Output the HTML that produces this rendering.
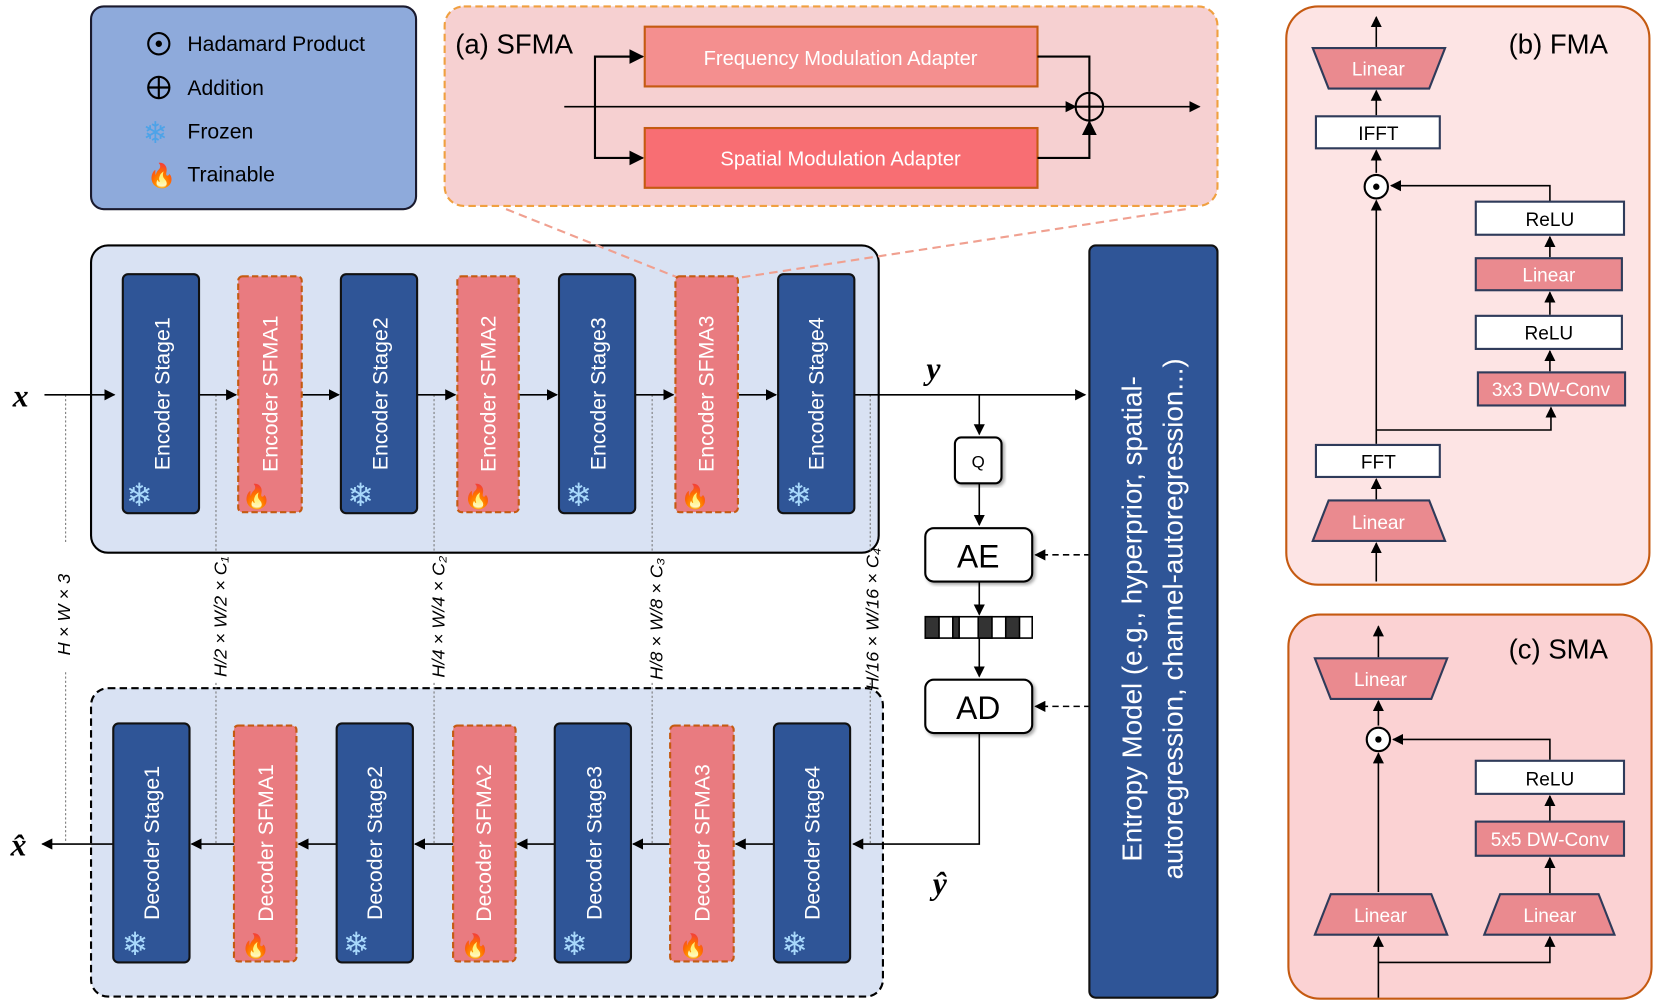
<!DOCTYPE html>
<html><head><meta charset="utf-8"><style>
html,body{margin:0;padding:0;background:#fff;}
svg{display:block;}
text{font-family:"Liberation Sans",sans-serif;}
.m{font-family:"Liberation Serif",serif;font-style:italic;}
</style></head><body>
<svg width="1660" height="1003" viewBox="0 0 1568 940" preserveAspectRatio="none" xmlns="http://www.w3.org/2000/svg">
<defs>
<marker id="a" viewBox="0 0 10 10" refX="9" refY="5" markerWidth="7" markerHeight="7" orient="auto-start-reverse"><path d="M0,0L10,5L0,10z" fill="#000"/></marker>
<filter id="sh"><feDropShadow dx="2" dy="2" stdDeviation="1.5" flood-opacity="0.35"/></filter>
</defs>
<!-- legend -->
<rect x="86" y="6" width="307" height="190" rx="12" fill="#8eaadb" stroke="#1a1a2e" stroke-width="2"/>
<circle cx="150" cy="41" r="10" fill="none" stroke="#000" stroke-width="2"/><circle cx="150" cy="41" r="3" fill="#000"/>
<text x="177" y="48" font-size="20">Hadamard Product</text>
<circle cx="150" cy="82" r="10" fill="none" stroke="#000" stroke-width="2"/><path d="M140,82h20M150,72v20" stroke="#000" stroke-width="2"/>
<text x="177" y="89" font-size="20">Addition</text>
<text x="135" y="134" font-size="28" fill="#4da3e8">❄</text><text x="177" y="130" font-size="20">Frozen</text>
<text x="139" y="172" font-size="22" fill="#f05a1a">🔥</text><text x="177" y="170" font-size="20">Trainable</text>
<!-- SFMA -->
<rect x="420" y="6" width="730" height="187" rx="18" fill="#f6d0d1" stroke="#f0a040" stroke-width="2" stroke-dasharray="7,4"/>
<text x="430" y="50" font-size="26">(a) SFMA</text>
<rect x="609" y="25" width="371" height="56" fill="#f48f8f" stroke="#c55a11" stroke-width="2"/>
<text x="794" y="61" font-size="19" fill="#fff" text-anchor="middle">Frequency Modulation Adapter</text>
<rect x="609" y="120" width="371" height="56" fill="#f86e73" stroke="#c55a11" stroke-width="2"/>
<text x="794" y="155" font-size="19" fill="#fff" text-anchor="middle">Spatial Modulation Adapter</text>
<path d="M533,100H1016" stroke="#000" stroke-width="1.5" marker-end="url(#a)"/>
<path d="M1042,100H1133" stroke="#000" stroke-width="1.5" marker-end="url(#a)"/>
<path d="M562,100V53H607M562,100V148H607" fill="none" stroke="#000" stroke-width="2" marker-end="url(#a)"/>
<path d="M562,53H607" stroke="#000" stroke-width="2" marker-end="url(#a)"/>
<path d="M980,53H1029V86M980,148H1029V114" fill="none" stroke="#000" stroke-width="2" marker-end="url(#a)"/>
<circle cx="1029" cy="100" r="13" fill="none" stroke="#000" stroke-width="2"/><path d="M1016,100h26M1029,87v26" stroke="#000" stroke-width="2"/>
<!-- encoder container -->
<rect x="86" y="230" width="744" height="288" rx="16" fill="#d9e2f3" stroke="#000" stroke-width="2"/>
<rect x="86" y="645" width="748" height="289" rx="16" fill="#d9e2f3" stroke="#000" stroke-width="2" stroke-dasharray="7,4"/>
<path d="M478,196L640,260M1120,196L700,260" stroke="#f0a090" stroke-width="2" stroke-dasharray="8,5"/>
<!-- dims dotted lines -->
<g stroke="#777" stroke-width="1" stroke-dasharray="2,2">
<path d="M62,370V510M62,630V790M204,370V518M204,640V790M410,370V518M410,640V790M616,370V518M616,640V790M822,370V518M822,640V790"/>
</g>
<!-- main lines -->
<g stroke="#000" stroke-width="1.5" fill="none">
<path d="M42,370H108" marker-end="url(#a)"/>
<path d="M188,370H223" marker-end="url(#a)"/>
<path d="M285,370H320" marker-end="url(#a)"/>
<path d="M394,370H430" marker-end="url(#a)"/>
<path d="M490,370H526" marker-end="url(#a)"/>
<path d="M600,370H636" marker-end="url(#a)"/>
<path d="M697,370H733" marker-end="url(#a)"/>
<path d="M807,370H1025" marker-end="url(#a)"/>
<path d="M925,370V407" marker-end="url(#a)"/>
<path d="M925,453V492" marker-end="url(#a)"/>
<path d="M925,545V576" marker-end="url(#a)"/>
<path d="M925,598V634" marker-end="url(#a)"/>
<path d="M925,687V791H806" marker-end="url(#a)"/>
<path d="M731,791H695" marker-end="url(#a)"/>
<path d="M633,791H598" marker-end="url(#a)"/>
<path d="M524,791H489" marker-end="url(#a)"/>
<path d="M428,791H392" marker-end="url(#a)"/>
<path d="M318,791H282" marker-end="url(#a)"/>
<path d="M221,791H181" marker-end="url(#a)"/>
<path d="M107,791H40" marker-end="url(#a)"/>
<path d="M1070,520H978" stroke-dasharray="6,4" marker-end="url(#a)"/>
<path d="M1070,662H978" stroke-dasharray="6,4" marker-end="url(#a)"/>
</g>
<!-- encoder blocks -->
<g font-size="20" fill="#fff">
<rect x="116" y="257" width="72" height="224" rx="5" fill="#2f5597" stroke="#111" stroke-width="2"/>
<text transform="translate(160,369) rotate(-90)" text-anchor="middle">Encoder Stage1</text>
<rect x="225" y="259" width="60" height="221" rx="4" fill="#e97b80" stroke="#c55a11" stroke-width="2" stroke-dasharray="6,3"/>
<text transform="translate(262,369) rotate(-90)" text-anchor="middle">Encoder SFMA1</text>
<rect x="322" y="257" width="72" height="224" rx="5" fill="#2f5597" stroke="#111" stroke-width="2"/>
<text transform="translate(366,369) rotate(-90)" text-anchor="middle">Encoder Stage2</text>
<rect x="432" y="259" width="58" height="221" rx="4" fill="#e97b80" stroke="#c55a11" stroke-width="2" stroke-dasharray="6,3"/>
<text transform="translate(468,369) rotate(-90)" text-anchor="middle">Encoder SFMA2</text>
<rect x="528" y="257" width="72" height="224" rx="5" fill="#2f5597" stroke="#111" stroke-width="2"/>
<text transform="translate(572,369) rotate(-90)" text-anchor="middle">Encoder Stage3</text>
<rect x="638" y="259" width="59" height="221" rx="4" fill="#e97b80" stroke="#c55a11" stroke-width="2" stroke-dasharray="6,3"/>
<text transform="translate(674,369) rotate(-90)" text-anchor="middle">Encoder SFMA3</text>
<rect x="735" y="257" width="72" height="224" rx="5" fill="#2f5597" stroke="#111" stroke-width="2"/>
<text transform="translate(778,369) rotate(-90)" text-anchor="middle">Encoder Stage4</text>
<!-- decoder -->
<rect x="107" y="678" width="72" height="224" rx="5" fill="#2f5597" stroke="#111" stroke-width="2"/>
<text transform="translate(150,790) rotate(-90)" text-anchor="middle">Decoder Stage1</text>
<rect x="221" y="680" width="59" height="221" rx="4" fill="#e97b80" stroke="#c55a11" stroke-width="2" stroke-dasharray="6,3"/>
<text transform="translate(258,790) rotate(-90)" text-anchor="middle">Decoder SFMA1</text>
<rect x="318" y="678" width="72" height="224" rx="5" fill="#2f5597" stroke="#111" stroke-width="2"/>
<text transform="translate(361,790) rotate(-90)" text-anchor="middle">Decoder Stage2</text>
<rect x="428" y="680" width="59" height="221" rx="4" fill="#e97b80" stroke="#c55a11" stroke-width="2" stroke-dasharray="6,3"/>
<text transform="translate(464,790) rotate(-90)" text-anchor="middle">Decoder SFMA2</text>
<rect x="524" y="678" width="72" height="224" rx="5" fill="#2f5597" stroke="#111" stroke-width="2"/>
<text transform="translate(568,790) rotate(-90)" text-anchor="middle">Decoder Stage3</text>
<rect x="633" y="680" width="60" height="221" rx="4" fill="#e97b80" stroke="#c55a11" stroke-width="2" stroke-dasharray="6,3"/>
<text transform="translate(670,790) rotate(-90)" text-anchor="middle">Decoder SFMA3</text>
<rect x="731" y="678" width="72" height="224" rx="5" fill="#2f5597" stroke="#111" stroke-width="2"/>
<text transform="translate(774,790) rotate(-90)" text-anchor="middle">Decoder Stage4</text>
</g>
<g font-size="30" fill="#a8d8fb">
<text x="119" y="474">❄</text><text x="328" y="474">❄</text><text x="534" y="474">❄</text><text x="742" y="474">❄</text>
<text x="115" y="895">❄</text><text x="324" y="895">❄</text><text x="530" y="895">❄</text><text x="738" y="895">❄</text>
<text x="1035" y="281">❄</text>
</g>
<g font-size="22" fill="#ff5a10">
<text x="229" y="473">🔥</text><text x="438" y="473">🔥</text><text x="643" y="473">🔥</text>
<text x="228" y="894">🔥</text><text x="435" y="894">🔥</text><text x="641" y="894">🔥</text>
</g>
<!-- dims -->
<g font-size="17" class="m">
<text transform="translate(66,576) rotate(-90)" text-anchor="middle">H × W × 3</text>
<text transform="translate(214,578) rotate(-90)" text-anchor="middle">H/2 × W/2 × C₁</text>
<text transform="translate(420,578) rotate(-90)" text-anchor="middle">H/4 × W/4 × C₂</text>
<text transform="translate(626,580) rotate(-90)" text-anchor="middle">H/8 × W/8 × C₃</text>
<text transform="translate(830,580) rotate(-90)" text-anchor="middle">H/16 × W/16 × C₄</text>
</g>
<text x="12" y="381" font-size="30" class="m" font-weight="bold">x</text>
<text x="10" y="802" font-size="30" class="m" font-weight="bold">x̂</text>
<text x="875" y="355" font-size="30" class="m" font-weight="bold">y</text>
<text x="881" y="838" font-size="30" class="m" font-weight="bold">ŷ</text>
<!-- Q AE AD -->
<rect x="902" y="410" width="44" height="43" rx="6" fill="#fff" stroke="#000" stroke-width="2" filter="url(#sh)"/>
<text x="924" y="438" font-size="16" text-anchor="middle">Q</text>
<rect x="874" y="495" width="101" height="50" rx="8" fill="#fff" stroke="#000" stroke-width="2" filter="url(#sh)"/>
<text x="924" y="532" font-size="30" text-anchor="middle">AE</text>
<rect x="874" y="637" width="101" height="50" rx="8" fill="#fff" stroke="#000" stroke-width="2" filter="url(#sh)"/>
<text x="924" y="674" font-size="30" text-anchor="middle">AD</text>
<g stroke="#000" stroke-width="1.5">
<rect x="874" y="578" width="101" height="20" fill="#fff"/>
<rect x="874" y="578" width="13" height="20" fill="#333"/><rect x="900" y="578" width="6" height="20" fill="#333"/><rect x="924" y="578" width="13" height="20" fill="#333"/><rect x="950" y="578" width="13" height="20" fill="#333"/>
</g>
<!-- entropy -->
<rect x="1029" y="230" width="121" height="705" rx="6" fill="#2f5597" stroke="#111" stroke-width="2"/>
<text transform="translate(1078,580) rotate(-90)" text-anchor="middle" font-size="26" fill="#fff">Entropy Model (e.g., hyperprior, spatial-</text>
<text transform="translate(1117,580) rotate(-90)" text-anchor="middle" font-size="26" fill="#fff">autoregression, channel-autoregression...)</text>
<!-- FMA -->
<rect x="1215" y="6" width="343" height="542" rx="30" fill="#fde4e4" stroke="#c55a11" stroke-width="2"/>
<text x="1425" y="50" font-size="26">(b) FMA</text>
<g stroke="#000" stroke-width="1.5" fill="none">
<path d="M1300,44V16" marker-end="url(#a)"/>
<path d="M1300,108V85" marker-end="url(#a)"/>
<path d="M1300,162V141" marker-end="url(#a)"/>
<path d="M1300,416V188" marker-end="url(#a)"/>
<path d="M1300,468V449" marker-end="url(#a)"/>
<path d="M1300,545V509" marker-end="url(#a)"/>
<path d="M1300,403H1465V382" marker-end="url(#a)"/>
<path d="M1464,348V329" marker-end="url(#a)"/>
<path d="M1464,295V274" marker-end="url(#a)"/>
<path d="M1464,241V222" marker-end="url(#a)"/>
<path d="M1464,189V174H1314" marker-end="url(#a)"/>
</g>
<polygon points="1240,45 1365,45 1350,83 1255,83" fill="#ea8a8f" stroke="#2f3b5a" stroke-width="2"/>
<text x="1302" y="71" font-size="18" fill="#fff" text-anchor="middle">Linear</text>
<rect x="1243" y="109" width="117" height="30" fill="#fff" stroke="#2f3b5a" stroke-width="2"/>
<text x="1302" y="131" font-size="18" text-anchor="middle">IFFT</text>
<circle cx="1300" cy="175" r="11" fill="#fff" stroke="#000" stroke-width="2"/><circle cx="1300" cy="175" r="3" fill="#000"/>
<rect x="1394" y="189" width="140" height="31" fill="#fff" stroke="#2f3b5a" stroke-width="2"/>
<text x="1464" y="212" font-size="18" text-anchor="middle">ReLU</text>
<rect x="1394" y="242" width="138" height="30" fill="#ea8a8f" stroke="#2f3b5a" stroke-width="2"/>
<text x="1463" y="264" font-size="18" fill="#fff" text-anchor="middle">Linear</text>
<rect x="1394" y="296" width="138" height="31" fill="#fff" stroke="#2f3b5a" stroke-width="2"/>
<text x="1463" y="318" font-size="18" text-anchor="middle">ReLU</text>
<rect x="1396" y="349" width="139" height="31" fill="#ea8a8f" stroke="#2f3b5a" stroke-width="2"/>
<text x="1465" y="371" font-size="18" fill="#fff" text-anchor="middle">3x3 DW-Conv</text>
<rect x="1243" y="417" width="117" height="30" fill="#fff" stroke="#2f3b5a" stroke-width="2"/>
<text x="1302" y="439" font-size="18" text-anchor="middle">FFT</text>
<polygon points="1255,469 1350,469 1365,507 1240,507" fill="#ea8a8f" stroke="#2f3b5a" stroke-width="2"/>
<text x="1302" y="496" font-size="18" fill="#fff" text-anchor="middle">Linear</text>
<!-- SMA -->
<rect x="1217" y="576" width="343" height="360" rx="30" fill="#fbd2d3" stroke="#c55a11" stroke-width="2"/>
<text x="1425" y="617" font-size="26">(c) SMA</text>
<g stroke="#000" stroke-width="1.5" fill="none">
<path d="M1302,616V587" marker-end="url(#a)"/>
<path d="M1302,680V657" marker-end="url(#a)"/>
<path d="M1302,836V706" marker-end="url(#a)"/>
<path d="M1464,769V746" marker-end="url(#a)"/>
<path d="M1464,837V804" marker-end="url(#a)"/>
<path d="M1464,712V693H1316" marker-end="url(#a)"/>
<path d="M1302,935V878" marker-end="url(#a)"/>
<path d="M1302,902H1464V878" marker-end="url(#a)"/>
</g>
<polygon points="1242,617 1367,617 1352,655 1257,655" fill="#ea8a8f" stroke="#2f3b5a" stroke-width="2"/>
<text x="1304" y="643" font-size="18" fill="#fff" text-anchor="middle">Linear</text>
<circle cx="1302" cy="693" r="11" fill="#fff" stroke="#000" stroke-width="2"/><circle cx="1302" cy="693" r="3" fill="#000"/>
<rect x="1394" y="713" width="140" height="31" fill="#fff" stroke="#2f3b5a" stroke-width="2"/>
<text x="1464" y="736" font-size="18" text-anchor="middle">ReLU</text>
<rect x="1394" y="770" width="140" height="32" fill="#ea8a8f" stroke="#2f3b5a" stroke-width="2"/>
<text x="1464" y="793" font-size="18" fill="#fff" text-anchor="middle">5x5 DW-Conv</text>
<polygon points="1257,838 1352,838 1367,876 1242,876" fill="#ea8a8f" stroke="#2f3b5a" stroke-width="2"/>
<text x="1304" y="864" font-size="18" fill="#fff" text-anchor="middle">Linear</text>
<polygon points="1417,838 1510,838 1525,876 1402,876" fill="#ea8a8f" stroke="#2f3b5a" stroke-width="2"/>
<text x="1464" y="864" font-size="18" fill="#fff" text-anchor="middle">Linear</text>
</svg>
</body></html>
